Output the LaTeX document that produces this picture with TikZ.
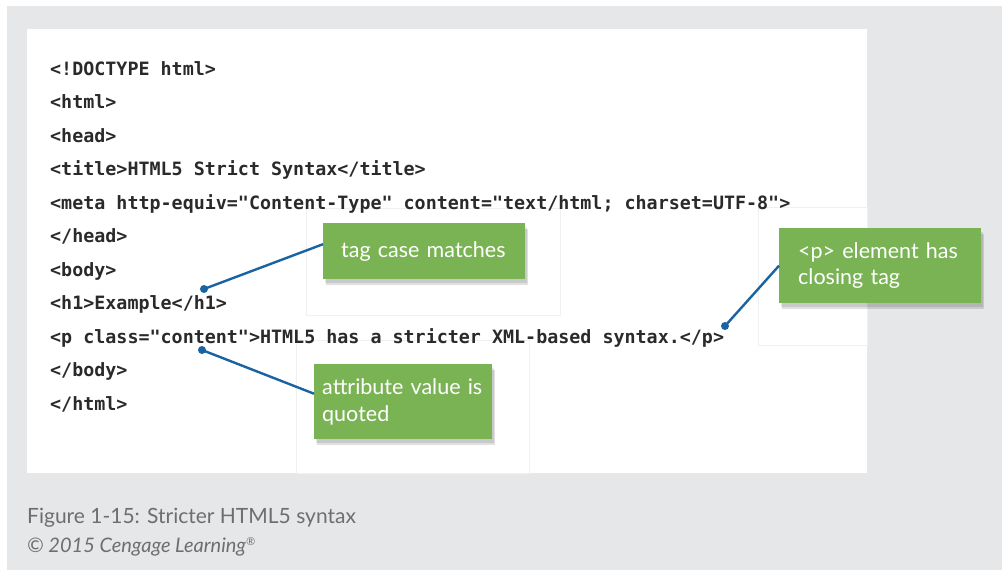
\documentclass[tikz,border=0pt]{standalone}
\usepackage{fontspec}
\setmainfont{Lato}
\newfontfamily\codefont{DejaVu Sans Mono}
\usetikzlibrary{shadows}
\definecolor{bggrey}{HTML}{E6E7E9}
\definecolor{boxgreen}{HTML}{7AB354}
\definecolor{connblue}{HTML}{1A63A3}
\definecolor{codeink}{HTML}{2A2A2A}
\definecolor{capink}{HTML}{6D6E70}
\definecolor{faint}{HTML}{F0F0F0}
\tikzset{
  codeline/.style={anchor=base west, inner sep=0pt, text=codeink,
    font=\codefont\bfseries\fontsize{18.35}{22}\selectfont},
  callout/.style={anchor=north west, fill=boxgreen, text=white, align=left,
    inner ysep=0pt, font=\fontsize{21.5}{26.5}\selectfont,
    drop shadow={shadow xshift=3pt, shadow yshift=-6pt, opacity=0.12, fill=black},
    drop shadow={shadow xshift=2pt, shadow yshift=-4pt, opacity=0.1, fill=black}},
  conn/.style={draw=connblue, line width=2.4pt},
  dot/.style={circle, fill=connblue, inner sep=0pt, minimum size=8pt},
  ghost/.style={draw=faint, line width=0.8pt},
  caption/.style={anchor=base west, inner sep=0pt, text=capink}
}
\begin{document}
\begin{tikzpicture}[x=1pt,y=-1pt]
\useasboundingbox (0,0) rectangle (1002,570);
% backgrounds
\fill[white] (0,0) rectangle (1002,570);
\fill[bggrey] (7,6) rectangle (1002,570);
\fill[white] (27,29) rectangle (867,473);
% faint ghost frames
\draw[ghost] (306,208) rectangle (560,315);
\draw[ghost] (758,207) rectangle (867,345);
\draw[ghost] (296,340) rectangle (529,473);
% code lines
\node[codeline] (l1) at (50,75) {<!DOCTYPE html>};
\node[codeline] (l2) at (50,108.5) {<html>};
\node[codeline] (l3) at (50,142) {<head>};
\node[codeline] (l4) at (50,175.5) {<title>HTML5 Strict Syntax</title>};
\node[codeline] (l5) at (50,209) {<meta http-equiv="Content-Type" content="text/html; charset=UTF-8">};
\node[codeline] (l6) at (50,242.5) {</head>};
\node[codeline] (l7) at (50,276) {<body>};
\node[codeline] (l8) at (50,309.5) {<h1>Example</h1>};
\node[codeline] (l9) at (50,343) {<p class="content">HTML5 has a stricter XML-based syntax.</p>};
\node[codeline] (l10) at (50,376.5) {</body>};
\node[codeline] (l11) at (50,410) {</html>};
% callouts
\node[callout, minimum width=202pt, minimum height=56pt, inner xsep=18pt, text width=166pt]
  (b1) at (323,223) {tag case matches};
\node[callout, minimum width=202pt, minimum height=75pt, inner xsep=19pt, text width=164pt]
  (b2) at (779,228) {<p> element has\\closing tag};
\node[callout, minimum width=178pt, minimum height=75pt, inner xsep=8pt, text width=162pt]
  (b3) at (314,364) {attribute value is\\quoted};
% dots
\node[dot] (d1) at (204,289) {};
\node[dot] (d2) at (202,350) {};
\node[dot] (d3) at (725,326) {};
% connectors
\draw[conn] (d1.center) -- ([yshift=7pt]b1.west);
\draw[conn] (d2.center) -- ([yshift=8pt]b3.west);
\draw[conn] (d3.center) -- (b2.west);
% caption
\node[caption, font=\fontsize{21}{25}\selectfont] (cap) at (27,523) {Figure 1-15: Stricter HTML5 syntax};
\node[caption, font=\itshape\fontsize{20}{24}\selectfont] (copy) at (27,552) {© 2015 Cengage Learning{\fontsize{11}{12}\selectfont\raisebox{7pt}{®}}};
\end{tikzpicture}
\end{document}
